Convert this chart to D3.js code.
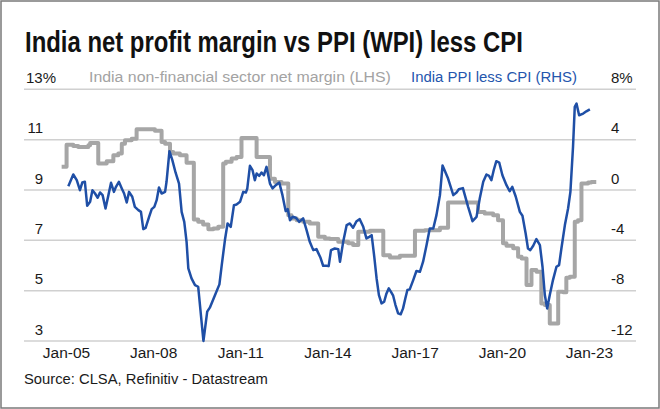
<!DOCTYPE html>
<html>
<head>
<meta charset="utf-8">
<script src="https://cdn.jsdelivr.net/npm/d3@7"></script>
<style>
  html, body { margin: 0; padding: 0; background: #fff; }
  svg { display: block; }
  text { font-family: "Liberation Sans", Arial, sans-serif; }
</style>
</head>
<body>
<div id="chart"></div>
<script>
// ---------- DATA ----------
const titleText = "India net profit margin vs PPI (WPI) less CPI";
const sourceText = "Source: CLSA, Refinitiv - Datastream";
const seriesNames = ["India non-financial sector net margin (LHS)", "India PPI less CPI (RHS)"];

const xTickYears = [2005, 2008, 2011, 2014, 2017, 2020, 2023];
const xTickLabels = ["Jan-05", "Jan-08", "Jan-11", "Jan-14", "Jan-17", "Jan-20", "Jan-23"];
const leftTicks = [3, 5, 7, 9, 11, 13];
const leftTickLabels = ["3", "5", "7", "9", "11", "13%"];
const rightTicks = [-12, -8, -4, 0, 4, 8];
const rightTickLabels = ["-12", "-8", "-4", "0", "4", "8%"];

// Net margin (LHS, %), step series: start of each period (decimal year) and value
const marginYears = [2004.85, 2005.02, 2005.25, 2005.42, 2005.77, 2005.83, 2006.11, 2006.40, 2006.63, 2006.80,
  2006.92, 2007.03, 2007.26, 2007.43, 2008.06, 2008.29, 2008.41, 2008.58, 2008.69, 2008.92,
  2009.15, 2009.40, 2009.55, 2009.72, 2009.90, 2010.07, 2010.24, 2010.41, 2010.50, 2010.70,
  2010.87, 2011.04, 2011.56, 2012.02, 2012.19, 2012.42, 2012.65, 2012.76, 2012.94, 2013.16,
  2013.39, 2013.68, 2013.91, 2014.08, 2014.37, 2014.71, 2014.88, 2015.06, 2015.46, 2015.92,
  2016.15, 2016.49, 2017.01, 2017.35, 2017.87, 2018.15, 2018.72, 2019.18, 2019.41, 2019.70,
  2019.87, 2020.04, 2020.16, 2020.39, 2020.56, 2020.68, 2020.85, 2021.02, 2021.19, 2021.36,
  2021.48, 2021.65, 2021.94, 2022.11, 2022.22, 2022.34, 2022.51, 2022.62, 2022.74, 2022.97,
  2023.08, 2023.25];
const marginValues = [9.92, 10.80, 10.75, 10.71, 10.78, 10.87, 10.05, 10.14, 10.38, 10.45,
  10.84, 10.98, 11.04, 11.41, 11.35, 10.91, 10.84, 10.51, 10.45, 10.38,
  10.08, 7.83, 7.74, 7.63, 7.44, 7.47, 7.54, 10.05, 10.12, 10.25,
  10.31, 11.07, 10.31, 9.45, 9.32, 9.26, 8.00, 7.87, 7.80, 7.74,
  7.67, 7.14, 7.07, 7.05, 6.94, 6.88, 6.81, 7.34, 7.38, 6.41,
  6.32, 6.39, 7.38, 7.40, 7.50, 8.50, 8.50, 8.13, 8.07, 8.00,
  7.80, 6.88, 6.78, 6.68, 6.35, 6.28, 5.22, 5.82, 5.75, 4.49,
  4.43, 3.70, 4.96, 4.94, 5.51, 5.55, 7.74, 7.80, 9.26, 9.30,
  9.32, 9.32];

// PPI less CPI (RHS, %)
const ppiYears = [2005.08, 2005.25, 2005.37, 2005.48, 2005.56, 2005.65, 2005.73, 2005.83, 2005.91, 2006.00,
  2006.09, 2006.17, 2006.26, 2006.36, 2006.46, 2006.55, 2006.65, 2006.72, 2006.82, 2006.92,
  2007.00, 2007.09, 2007.17, 2007.28, 2007.37, 2007.49, 2007.58, 2007.66, 2007.74, 2007.86,
  2007.95, 2008.04, 2008.12, 2008.20, 2008.29, 2008.41, 2008.46, 2008.56, 2008.66, 2008.77,
  2008.89, 2008.98, 2009.07, 2009.15, 2009.21, 2009.32, 2009.44, 2009.55, 2009.73, 2009.86,
  2009.95, 2010.13, 2010.28, 2010.36, 2010.47, 2010.56, 2010.67, 2010.78, 2010.87, 2010.99,
  2011.10, 2011.19, 2011.24, 2011.33, 2011.42, 2011.50, 2011.56, 2011.65, 2011.73, 2011.81,
  2011.90, 2012.02, 2012.11, 2012.22, 2012.34, 2012.45, 2012.56, 2012.63, 2012.71, 2012.80,
  2012.91, 2013.03, 2013.16, 2013.28, 2013.39, 2013.51, 2013.62, 2013.76, 2013.85, 2013.96,
  2014.04, 2014.12, 2014.25, 2014.37, 2014.43, 2014.54, 2014.66, 2014.77, 2014.88, 2015.00,
  2015.11, 2015.23, 2015.34, 2015.44, 2015.52, 2015.61, 2015.69, 2015.77, 2015.86, 2015.95,
  2016.03, 2016.11, 2016.18, 2016.26, 2016.34, 2016.43, 2016.52, 2016.60, 2016.68, 2016.75,
  2016.83, 2016.95, 2017.06, 2017.18, 2017.29, 2017.41, 2017.52, 2017.64, 2017.75, 2017.87,
  2017.96, 2018.15, 2018.33, 2018.44, 2018.52, 2018.66, 2018.84, 2018.99, 2019.13, 2019.24,
  2019.36, 2019.47, 2019.56, 2019.64, 2019.72, 2019.81, 2019.91, 2020.02, 2020.16, 2020.27,
  2020.36, 2020.48, 2020.62, 2020.71, 2020.82, 2020.90, 2020.98, 2021.08, 2021.19, 2021.31,
  2021.40, 2021.48, 2021.56, 2021.65, 2021.76, 2021.88, 2021.97, 2022.05, 2022.17, 2022.28,
  2022.36, 2022.45, 2022.51, 2022.57, 2022.66, 2022.80, 2022.91, 2023.03];
const ppiValues = [0.30, 1.23, 0.78, -0.02, 0.59, 0.65, -1.26, -0.94, -0.02, -0.28,
  -0.62, -0.20, -0.41, -1.47, -0.41, 0.57, -0.15, 0.25, 0.65, 0.12,
  -0.28, -0.99, -0.15, -0.54, -1.34, -1.60, -1.74, -3.11, -3.01, -2.13,
  -1.52, -1.34, -0.81, 0.20, -0.28, -0.15, 0.65, 3.08, 2.37, 1.39,
  0.51, -1.74, -2.53, -4.12, -6.23, -7.03, -7.56, -7.69, -12.0, -9.67,
  -9.35, -8.35, -7.50, -5.97, -3.98, -2.66, -2.93, -1.21, -1.15, -0.94,
  -0.15, -0.20, 0.12, 1.92, 1.57, 0.78, 1.31, 1.12, 1.39, 1.17,
  1.84, 0.51, 0.12, 0.38, 0.59, -0.41, -1.68, -1.52, -2.40, -2.13,
  -2.21, -2.53, -2.26, -3.19, -4.12, -4.78, -4.70, -5.39, -6.02, -6.02,
  -6.05, -4.78, -4.65, -4.70, -5.70, -4.12, -2.79, -2.66, -3.00, -2.48,
  -2.32, -2.93, -3.85, -3.72, -3.59, -5.31, -7.03, -8.35, -9.01, -8.88,
  -8.22, -7.82, -8.08, -8.40, -9.14, -9.80, -9.88, -9.41, -8.61, -7.95,
  -7.90, -7.16, -6.44, -6.50, -5.70, -4.38, -3.06, -3.06, -2.00, -0.41,
  1.95, 0.91, -0.41, -0.20, 0.06, 0.15, -1.34, -2.48, -2.13, -0.68,
  0.65, 1.23, 1.12, 0.78, 1.57, 2.29, 2.18, 1.17, 0.38, -0.10,
  0.25, -0.54, -1.74, -2.05, -3.46, -4.65, -4.78, -4.43, -3.90, -4.38,
  -6.10, -8.35, -9.41, -8.35, -7.16, -6.10, -5.97, -4.65, -2.79, -1.47,
  -0.15, 3.42, 6.60, 6.86, 5.94, 6.07, 6.25, 6.41];

// ---------- CHART ----------
const W = 660, H = 409;
const grayColor = "#a6a6a6", blueColor = "#1f4fa6", gridColor = "#d0d0d0", labelColor = "#1a1a1a";

const svg = d3.select("#chart").append("svg").attr("width", W).attr("height", H);
svg.append("rect").attr("x", 0).attr("y", 0).attr("width", W).attr("height", H).attr("fill", "#fff");
svg.append("rect").attr("x", 1).attr("y", 1).attr("width", W - 2).attr("height", H - 2)
  .attr("fill", "none").attr("stroke", "#7a7a7a").attr("stroke-width", 1.5);

const x = d3.scaleLinear().domain([2005, 2023]).range([66, 589]);
const yL = d3.scaleLinear().domain([3, 13]).range([341, 89.3]);
const yR = d3.scaleLinear().domain([-12, 8]).range([341, 89.3]);

// text placed at (px,py) and horizontally condensed to a target width
function fittedText(px, py, str, target, attrs) {
  const g = svg.append("g").attr("transform", `translate(${px},${py})`);
  const t = g.append("text").attr("x", 0).attr("y", 0).text(str);
  Object.entries(attrs).forEach(([k, v]) => t.attr(k, v));
  const w = t.node().getComputedTextLength();
  if (w > 0) t.attr("transform", `scale(${target / w},1)`);
  return t;
}

// Title
fittedText(25, 52, titleText, 498, { "font-size": 29, "font-weight": "bold", "fill": "#111" });

// gridlines
svg.append("g").selectAll("line").data(leftTicks).join("line")
  .attr("x1", 24).attr("x2", 636)
  .attr("y1", d => yL(d)).attr("y2", d => yL(d))
  .attr("stroke", gridColor).attr("stroke-width", 1.5);

// Left axis
const gL = svg.append("g").attr("transform", "translate(43,0)")
  .call(d3.axisLeft(yL).tickValues(leftTicks).tickSize(0).tickPadding(0)
    .tickFormat((d, i) => leftTickLabels[i]));
gL.select(".domain").remove();
gL.selectAll("text").attr("y", -12).attr("dy", "0.35em")
  .attr("font-size", 15).attr("fill", labelColor).attr("font-family", null);
gL.selectAll(".tick").filter(d => d === 13).select("text")
  .attr("text-anchor", "start").attr("x", -17);

// Right axis
const gR = svg.append("g").attr("transform", "translate(611,0)")
  .call(d3.axisRight(yR).tickValues(rightTicks).tickSize(0).tickPadding(0)
    .tickFormat((d, i) => rightTickLabels[i]));
gR.select(".domain").remove();
gR.selectAll("text").attr("y", -12).attr("dy", "0.35em")
  .attr("font-size", 15).attr("fill", labelColor).attr("font-family", null);

// Bottom axis
const gB = svg.append("g").attr("transform", "translate(0,341)")
  .call(d3.axisBottom(x).tickValues(xTickYears).tickSize(0).tickPadding(0)
    .tickFormat((d, i) => xTickLabels[i]));
gB.select(".domain").remove();
gB.selectAll("text").attr("y", 12).attr("dy", "0.35em")
  .attr("font-size", 15.5).attr("fill", labelColor).attr("font-family", null);

// Legend
fittedText(89, 82, seriesNames[0], 302, { "font-size": 15.5, "fill": "#a3a3a3" });
fittedText(411, 82, seriesNames[1], 166, { "font-size": 15.5, "fill": "#2456ad" });

// Lines
const marginData = marginYears.map((t, i) => ({ t, v: marginValues[i] }));
const ppiData = ppiYears.map((t, i) => ({ t, v: ppiValues[i] }));

svg.append("path").datum(marginData)
  .attr("fill", "none").attr("stroke", grayColor).attr("stroke-width", 4)
  .attr("stroke-linejoin", "round")
  .attr("d", d3.line().curve(d3.curveStepAfter).x(d => x(d.t)).y(d => yL(d.v)));

svg.append("path").datum(ppiData)
  .attr("fill", "none").attr("stroke", blueColor).attr("stroke-width", 2.5)
  .attr("stroke-linejoin", "round")
  .attr("d", d3.line().x(d => x(d.t)).y(d => yR(d.v)));

// Source
fittedText(24, 384, sourceText, 244, { "font-size": 15, "fill": "#1a1a1a" });
</script>
</body>
</html>
